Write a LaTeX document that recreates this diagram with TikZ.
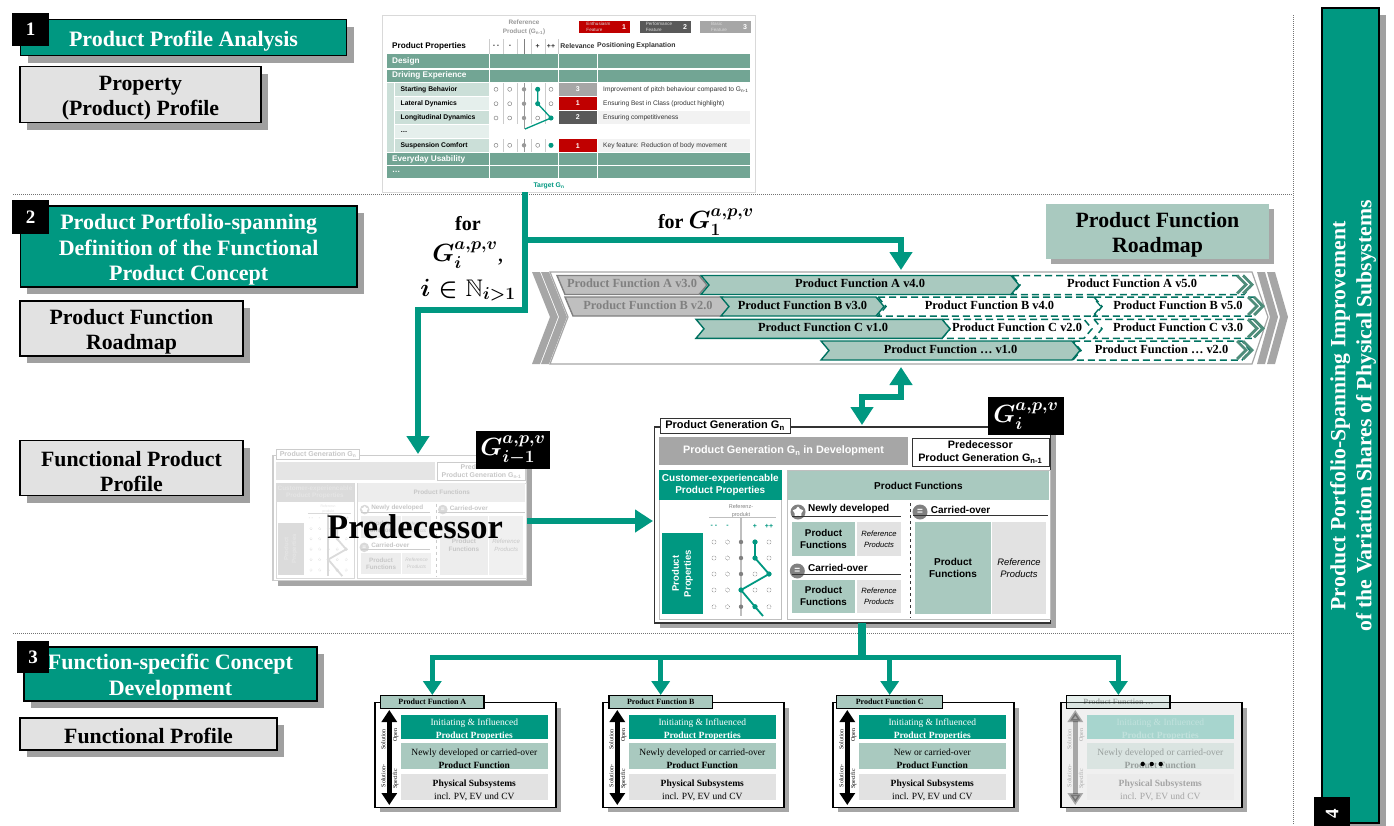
\documentclass[tikz,border=0pt]{standalone}
\usepackage{amsmath,amssymb}
\usepackage{fontspec}
\setmainfont{Liberation Serif}
\setsansfont{Liberation Sans}
\usetikzlibrary{arrows.meta,shadows,shapes.geometric}

\definecolor{pgreen}{HTML}{009881}
\definecolor{plight}{HTML}{A9C9BF}
\definecolor{ptable}{HTML}{72A594}
\definecolor{pgray}{HTML}{E2E2E2}
\definecolor{pshade}{HTML}{A0A0A0}
\definecolor{pred}{HTML}{C00000}
\definecolor{pdark}{HTML}{595959}
\definecolor{pchev}{HTML}{4E8D7A}
\newcommand{\fs}[2]{\fontsize{#1}{#2}\selectfont}
\newcommand{\lift}[1]{\rule{0pt}{#1}}

\tikzset{
  cell/.style={inner sep=0pt,align=center},
  hardshadow/.style={drop shadow={shadow xshift=7pt,shadow yshift=-7pt,opacity=1,fill=pshade}},
  softshadow/.style={drop shadow={shadow xshift=5pt,shadow yshift=-5pt,opacity=.35,fill=black}},
  stagebox/.style={cell,draw=black,line width=1.3pt,fill=pgreen,text=white,font=\bfseries\fs{22}{25.5},hardshadow},
  outbox/.style={cell,draw=black,line width=1.3pt,fill=pgray,text=black,font=\bfseries\fs{21.8}{25},hardshadow},
  numbox/.style={cell,fill=black,text=white,font=\bfseries\fs{19}{19}},
  flow/.style={draw=pgreen,line width=5.5pt,-{Triangle[width=22pt,length=18pt]}},
  flowboth/.style={draw=pgreen,line width=5.5pt,{Triangle[width=22pt,length=18pt]}-{Triangle[width=22pt,length=18pt]}},
  cardflow/.style={draw=pgreen,line width=5pt,-{Triangle[width=18pt,length=14pt]}},
  sepline/.style={densely dotted,draw=black!55,line width=1pt},
  tblhead/.style={cell,anchor=west,text=white,font=\sffamily\bfseries\fs{8.2}{9}},
  tblsub/.style={cell,anchor=west,font=\sffamily\bfseries\fs{6.8}{8}},
  tbltext/.style={cell,anchor=west,text=black!80,font=\sffamily\fs{6.6}{8}},
  tblcol/.style={cell,text=black!80,font=\sffamily\bfseries\fs{6.9}{8}},
  tblrel/.style={cell,text=white,minimum width=38pt,font=\sffamily\bfseries\fs{7}{8}},
  legbox/.style={cell,text=white!85!black,minimum height=12pt,minimum width=38pt,font=\sffamily\fs{4.6}{5.5},align=left},
  legnum/.style={cell,text=white,minimum height=12pt,minimum width=12pt,font=\sffamily\bfseries\fs{7}{8}},
  barsolid/.style={draw=pgreen!75!black,line width=1.4pt,fill=plight,text=black},
  bargray/.style={draw=black!50,line width=1.4pt,fill=black!25,text=black!50},
  bardash/.style={draw=pgreen!75!black,line width=1.5pt,dash pattern=on 7pt off 4pt,fill=white,text=black},
  bartext/.style={cell,font=\bfseries\fs{12.4}{14}},
  endchev/.style={draw=pchev,line width=2.8pt},
  outerchev/.style={fill=black!35},
  gencap/.style={cell,font=\sffamily\bfseries\fs{10}{12}},
  cardrow/.style={cell,font=\fs{9.5}{13}},
  sideword/.style={cell,rotate=90,font=\fs{6}{7}}
}

% one product generation card, in the pixel frame of the large one
\newcommand{\GenBody}[1]{
  \node[cell,draw=gcLine,line width=1.2pt,fill=white,minimum width=396pt,minimum height=196pt,softshadow] (#1frame) at (852.8,524.9) {};
  \node[gencap,draw=gcLine,line width=.8pt,fill=white,text=gcInk,minimum width=130pt,minimum height=15pt,font=\sffamily\bfseries\fs{11}{12}] (#1tab) at (725,425.5) {Product Generation G\textsubscript{n}};
  \node[gencap,fill=gcBand,text=gcHead,minimum width=249pt,minimum height=28pt,font=\sffamily\bfseries\fs{10.8}{12}] (#1band) at (783.5,451) {Product Generation G\textsubscript{n} in Development};
  \node[gencap,draw=gcLine,text=gcInk,minimum width=137pt,minimum height=28pt,font=\sffamily\bfseries\fs{10.8}{13}] (#1prev) at (980.3,452) {Predecessor\\Product Generation G\textsubscript{n-1}};
  \node[cell,draw=gcPane,minimum width=122.7pt,minimum height=149pt] (#1cust) at (720.3,544.5) {};
  \node[cell,draw=gcPane,minimum width=263.3pt,minimum height=149pt] (#1func) at (918.4,544.5) {};
  \node[gencap,fill=gcTeal,text=gcHead,minimum width=122.7pt,minimum height=30pt,font=\sffamily\bfseries\fs{10}{12}] (#1custhead) at (720.3,485) {Customer-experiencable\\Product Properties};
  \node[gencap,fill=gcTeal,text=gcHead,rotate=90,minimum width=81pt,minimum height=40.7pt,font=\sffamily\bfseries\fs{9.5}{12}] (#1propbox) at (682.3,573.5) {Product\\Properties};
  \node[cell,text=gcInk!50,font=\sffamily\fs{5.5}{8}] (#1refword) at (741,511) {Referenz-\\produkt};
  \draw[gcPane,line width=.8pt] (709,517.7) -- (776,517.7);
  \draw[gcPane,line width=2.5pt] (741,518) -- (741,616);
  \foreach \xc/\sym in {714/{- -},727.5/-,755/+,769/++}{
    \node[cell,text=gcTeal,font=\sffamily\bfseries\fs{7}{8}] at (\xc,526) {\sym};
  }
  \foreach \yc in {542,558,574,590,606.7}{
    \foreach \xc in {714,727.5,755,769}{ \draw[gcInk!70,densely dotted,line width=.5pt] (\xc,\yc) circle (2pt); }
    \fill[gcBadge] (741,\yc) circle (2.2pt);
  }
  \draw[gcTeal,line width=1.8pt] (755,542) -- (755,558) -- (769,574) -- (741,590) -- (755,606.7) -- (763,616);
  \foreach \xc/\yc in {755/542,755/558,769/574,741/590,755/606.7}{ \fill[gcTeal] (\xc,\yc) circle (2.6pt); }
  \node[gencap,fill=gcLight,text=gcInk,minimum width=261pt,minimum height=29pt] (#1funchead) at (918.4,485.5) {Product Functions};
  \node[cell,circle,fill=gcBadge,minimum size=15pt] (#1newmark) at (798,512) {};
  \node[cell,star,star points=5,fill=white,minimum size=11pt] (#1newstar) at (798,512) {};
  \node[gencap,anchor=west,text=gcInk] (#1newlab) at (808,509) {Newly developed};
  \draw[gcLine,line width=.7pt] (792,516) -- (900.7,516);
  \node[gencap,circle,fill=gcBadge,text=white,minimum size=15pt] (#1carmark) at (797.3,571) {=};
  \node[gencap,anchor=west,text=gcInk] (#1carlab) at (808,568) {Carried-over};
  \draw[gcLine,line width=.7pt] (792,574.3) -- (900.7,574.3);
  \node[gencap,circle,fill=gcBadge,text=white,minimum size=15pt] (#1keepmark) at (920,512) {=};
  \node[gencap,anchor=west,text=gcInk] (#1keeplab) at (930.7,509.7) {Carried-over};
  \draw[gcLine,line width=.7pt] (913,515.7) -- (1048,515.7);
  \draw[gcLine,dashed,line width=.9pt] (910,503) -- (910,618);
  \node[gencap,fill=gcLight,text=gcInk,minimum width=63pt,minimum height=34pt,font=\sffamily\bfseries\fs{9.8}{12}] (#1pfa) at (823.5,539) {Product\\Functions};
  \node[cell,fill=gcGray,text=gcInk,minimum width=44pt,minimum height=34pt,font=\sffamily\itshape\fs{7.6}{11}] (#1rfa) at (879,539) {Reference\\Products};
  \node[gencap,fill=gcLight,text=gcInk,minimum width=63pt,minimum height=32.7pt,font=\sffamily\bfseries\fs{9.8}{12}] (#1pfb) at (823.5,596.4) {Product\\Functions};
  \node[cell,fill=gcGray,text=gcInk,minimum width=44pt,minimum height=32.7pt,font=\sffamily\itshape\fs{7.6}{11}] (#1rfb) at (879,596.4) {Reference\\Products};
  \node[gencap,fill=gcLight,text=gcInk,minimum width=76pt,minimum height=92pt,font=\sffamily\bfseries\fs{10}{12}] (#1pfc) at (953,568) {Product\\Functions};
  \node[cell,fill=gcGray,text=gcInk,minimum width=54pt,minimum height=92pt,font=\sffamily\itshape\fs{9.4}{12}] (#1rfc) at (1019,568) {Reference\\Products};
}

\begin{document}
\begin{tikzpicture}[x=1pt,y=-1pt]
\useasboundingbox (0,0) rectangle (1394,825);

% separators
\draw[sepline] (13,194.5) -- (1292,194.5);
\draw[sepline] (13,633) -- (1292,633);
\draw[sepline] (1293,15) -- (1293,825);

% left column
\node[stagebox,minimum width=326pt,minimum height=36pt] (stagea) at (183.5,37.5) {\lift{22pt}Product Profile Analysis};
\node[numbox,minimum width=37pt,minimum height=33pt] (numa) at (30.5,29.5) {1};
\node[outbox,minimum width=241pt,minimum height=56pt] (profile) at (140.5,94.5) {\lift{22pt}Property\\(Product) Profile};
\node[stagebox,minimum width=336.5pt,minimum height=81pt] (stageb) at (188.7,246.5) {\lift{22pt}Product Portfolio-spanning\\Definition of the Functional\\Product Concept};
\node[numbox,minimum width=37pt,minimum height=34pt] (numb) at (30.5,217) {2};
\node[outbox,minimum width=223pt,minimum height=55pt] (roadmap) at (131.5,328.5) {\lift{22pt}Product Function\\Roadmap};
\node[outbox,minimum width=223pt,minimum height=55pt] (funcprof) at (131.5,468) {\lift{22pt}Functional Product\\Profile};
\node[stagebox,minimum width=293pt,minimum height=54pt] (stagec) at (170.5,674) {\lift{22pt}Function-specific Concept\\Development};
\node[numbox,minimum width=32pt,minimum height=32pt] (numc) at (33,657) {3};
\node[outbox,minimum width=257pt,minimum height=32pt] (funcsingle) at (148.5,734) {\lift{20pt}Functional Profile};

% right column
\node[stagebox,minimum width=57pt,minimum height=815pt] (staged) at (1350.5,415.5) {};
\node[cell,rotate=90,text=white,font=\bfseries\fs{21.7}{26}] (stagedtext) at (1353,416) {Product Portfolio-Spanning Improvement\\of the Variation Shares of Physical Subsystems};
\node[numbox,rotate=90,minimum width=33pt,minimum height=36pt] (numd) at (1332,813.5) {4};

% property table
\node[cell,draw=black!15,line width=1pt,fill=white,minimum width=373pt,minimum height=177pt] (proptbl) at (568.5,103.8) {};
\node[cell,text=black!40,font=\sffamily\bfseries\fs{6.4}{9}] (reflab) at (524,27.5) {Reference\\Product (G\textsubscript{n-1})};
\foreach \xa/\xb/\col/\num/\lab/\nm in {598.5/579/pred/1/{Enthusiasm\\Feature}/enth,659/640/pdark/2/{Performance\\Feature}/perf,719/700/black!35/3/{Basic\\Feature}/basic}{
  \node[legbox,fill=\col,minimum width=39pt] (leg\nm) at (\xa,27) {\lab};
  \node[legnum,fill=\col] (legn\nm) at (\xb+45,27) {\num};
}
\node[tblsub,font=\sffamily\bfseries\fs{8.2}{10}] (tblpp) at (392,46) {Product Properties};
\foreach \xc/\sym in {496/{- -},510/-,537.7/+,551/++}{ \node[tblcol] at (\xc,46) {\sym}; }
\node[tblcol] (tblrel) at (577.5,46) {Relevance};
\node[tblcol] (tblpos) at (616,46) {Positioning};
\node[tblcol] (tblexp) at (656,46) {Explanation};
\foreach \xc in {489.3,503.3,517.3,531.7,545,558.3}{ \draw[black!20,line width=.7pt] (\xc,39) -- (\xc,54); }
\draw[black!50,line width=.7pt] (524,39) -- (524,54);
\foreach \ya/\yb/\lab [count=\i] in {54.3/68.3/Design,70/81.7/Driving Experience,153.3/165/Everyday Usability,166/177.7/\ldots}{
  \foreach \xa/\xb in {386.7/489.3,490/558.3,559/596.7,597.7/750}{ \fill[ptable] (\xa,\ya) rectangle (\xb,\yb); }
  \node[tblhead] (tblrow\i) at (392,{(\ya+\yb)/2}) {\lab};
}
\fill[plight!60] (387,82.7) rectangle (393.7,152.3);
\foreach \ya/\yb/\lab/\col [count=\i] in {82.7/96/Starting Behavior/plight!60,96.7/110/Lateral Dynamics/plight!30,110.7/124/Longitudinal Dynamics/plight!60,125/138/\ldots/plight!30,139/152.3/Suspension Comfort/plight!60}{
  \fill[\col] (395,\ya) rectangle (489,\yb);
  \node[tblsub] (tblsub\i) at (400.5,{(\ya+\yb)/2}) {\lab};
}
\fill[black!5] (597.7,110.7) rectangle (750,124);
\fill[black!5] (597.7,139) rectangle (750,152.3);
\foreach \xc in {503.3,517.3,531.7,545}{
  \draw[black!20,line width=.5pt] (\xc,83) -- (\xc,124);
  \draw[black!20,line width=.5pt] (\xc,139) -- (\xc,152);
}
\draw[black!40,line width=.7pt] (524,83) -- (524,129);
\draw[black!40,line width=.7pt] (524,139) -- (524,152);
\foreach \yc in {89.3,103.7,118,145.3}{
  \foreach \xc in {496,509.7,537.7,551}{ \draw[black!55,fill=white,line width=.4pt] (\xc,\yc) circle (2pt); }
  \fill[black!40] (524,\yc) circle (2.2pt);
}
\draw[pgreen,line width=1.3pt] (537.7,89.3) -- (537.7,103.7) -- (551,118) -- (525,129);
\foreach \xc/\yc in {537.7/89.3,537.7/103.7,551/118,551/145.3}{ \fill[pgreen] (\xc,\yc) circle (2.5pt); }
\foreach \yc/\col/\num [count=\i] in {89.3/black!35/3,103.4/pred/1,117.4/pdark/2,145.6/pred/1}{
  \node[tblrel,fill=\col,minimum height=13.5pt] (tblnum\i) at (577.8,\yc) {\num};
}
\node[tbltext] (tblexa) at (603,89.3) {Improvement of pitch behaviour compared to G\textsubscript{n-1}};
\node[tbltext] (tblexb) at (603,103.4) {Ensuring Best in Class (product highlight)};
\node[tbltext] (tblexc) at (603,117.4) {Ensuring competitiveness};
\node[tbltext] (tblexd) at (603,145.6) {Key feature: Reduction of body movement};
\node[cell,text=pgreen,font=\sffamily\bfseries\fs{6.8}{8}] (target) at (549,185.5) {Target G\textsubscript{n}};

% roadmap band
\node[cell,fill=plight,minimum width=223pt,minimum height=55pt,font=\bfseries\fs{21.8}{25},softshadow] (maplabel) at (1157.5,231.5) {\lift{22pt}Product Function\\Roadmap};
\foreach \xa in {532,541}{ \fill[outerchev] (\xa,272) -- (\xa+8,272) -- (\xa+26,317) -- (\xa+8,364) -- (\xa,364) -- (\xa+18,317) -- cycle; }
\foreach \xa in {1257,1267}{ \fill[outerchev] (\xa,272) -- (\xa+8,272) -- (\xa+21,317) -- (\xa+8,364) -- (\xa,364) -- (\xa+13,317) -- cycle; }
\draw[draw=black!35,line width=1.2pt,fill=white] (550,272) -- (1252,272) -- (1268,317) -- (1252,364) -- (550,364) -- (568,317) -- cycle;
\foreach \xa/\xb/\ya/\lab/\nm [evaluate=\ya as \ym using \ya+9.5,evaluate=\ya as \yb using \ya+19] in {
  557/707/275.5/Product Function A v3.0/aiii,
  565/731/297/Product Function B v2.0/bii}{
  \draw[bargray] (\xa,\ya) -- (\xb-8,\ya) -- (\xb,\ym) -- (\xb-8,\yb) -- (\xa+8,\yb) -- cycle;
  \node[bargray,draw=none,fill=none,bartext] (bar\nm) at ({(\xa+\xb)/2},\ym-1.5) {\lab};
}
\foreach \xa/\xb/\ya/\barstyle/\lab/\nm [evaluate=\ya as \ym using \ya+9.5,evaluate=\ya as \yb using \ya+19] in {
  1012/1252/275.5/bardash/Product Function A v5.0/av,
  701/1019/275.5/barsolid/Product Function A v4.0/aiv,
  878/1101/297/bardash/Product Function B v4.0/biv,
  1094/1262/297/bardash/Product Function B v5.0/bv,
  721/884/297/barsolid/Product Function B v3.0/biii,
  942/1092/319.3/bardash/Product Function C v2.0/cii,
  1094/1262/319.3/bardash/Product Function C v3.0/ciii,
  696/950/319.3/barsolid/Product Function C v1.0/ci,
  1073/1250/341/bardash/Product Function \ldots{} v2.0/dii,
  821/1080/341/barsolid/Product Function \ldots{} v1.0/di}{
  \draw[\barstyle] (\xa,\ya) -- (\xb-8,\ya) -- (\xb,\ym) -- (\xb-8,\yb) -- (\xa,\yb) -- (\xa+8,\ym) -- cycle;
  \node[\barstyle,draw=none,fill=none,bartext] (bar\nm) at ({(\xa+\xb)/2},\ym-1.5) {\lab};
}
\foreach \xe/\ya [evaluate=\ya as \ym using \ya+9,evaluate=\ya as \yb using \ya+18] in {1252/275.5,1263/297,1263/319.3,1252/341}{
  \draw[endchev] (\xe-15,\ya) -- (\xe-6,\ym) -- (\xe-15,\yb);
  \draw[endchev] (\xe-9,\ya) -- (\xe,\ym) -- (\xe-9,\yb);
}

% predecessor card, faded
\begin{scope}[shift={(-146,181.9)},scale=.64,transform shape]
\colorlet{gcLine}{black!20}\colorlet{gcInk}{black!22}\colorlet{gcTeal}{black!14}\colorlet{gcLight}{black!7}
\colorlet{gcGray}{black!6}\colorlet{gcBand}{black!10}\colorlet{gcPane}{black!15}\colorlet{gcBadge}{black!15}\colorlet{gcHead}{white!90!black}
\GenBody{pred}
\end{scope}
\node[cell,font=\bfseries\fs{34.5}{40}] (predword) at (415,527) {Predecessor};
\node[cell,fill=black,text=white,minimum width=74pt,minimum height=38pt,font=\fs{24}{28}] (badgeprev) at (513,450) {$\boldsymbol{G_{i-1}^{a,p,v}}$};

% current generation card
\begin{scope}
\colorlet{gcLine}{black!80}\colorlet{gcInk}{black}\colorlet{gcTeal}{pgreen}\colorlet{gcLight}{plight}
\colorlet{gcGray}{pgray}\colorlet{gcBand}{black!35}\colorlet{gcPane}{black!25}\colorlet{gcBadge}{black!50}\colorlet{gcHead}{white}
\GenBody{gen}
\end{scope}
\node[cell,fill=black,text=white,minimum width=76pt,minimum height=38pt,font=\fs{24}{28}] (badgegen) at (1026,416) {$\boldsymbol{G_i^{a,p,v}}$};

% function cards
\foreach \dx/\nm/\tabx/\tabw/\lab/\mid/\op/\bg in {
  0/A/432.3/103.3/A/Newly developed or carried-over/1/white,
  228/B/432.7/103.3/B/Newly developed or carried-over/1/white,
  458/C/431.7/106/C/New or carried-over/1/white,
  686/D/432.4/103.3/\ldots/Newly developed or carried-over/.3/black!6}{
\begin{scope}[shift={(\dx,0)}]
  \node[cell,draw=black,line width=1.4pt,fill=\bg,minimum width=181pt,minimum height=104.6pt,softshadow] (card\nm) at (465.5,755) {};
  \fill[pgreen,opacity=\op] (401,715) rectangle (547.7,739);
  \fill[plight,opacity=\op] (401,743) rectangle (547.7,769);
  \fill[pgray,opacity=\op] (401,774) rectangle (547.7,800);
  \node[cardrow,text=white,opacity=\op] (cardtop\nm) at (474.3,727) {\lift{12.5pt}Initiating \& Influenced\\\textbf{Product Properties}};
  \node[cardrow,opacity=\op] (cardmid\nm) at (474.3,756) {\lift{12.5pt}\mid\\\textbf{Product Function}};
  \node[cardrow,opacity=\op] (cardlow\nm) at (474.3,787) {\lift{12.5pt}\textbf{Physical Subsystems}\\incl. PV, EV und CV};
  \coordinate (cardup\nm) at (389.3,710);
  \coordinate (carddn\nm) at (389.3,805);
  \draw[line width=4.5pt,opacity=\op,{Triangle[width=15pt,length=12pt]}-{Triangle[width=15pt,length=12pt]}] (cardup\nm) -- (carddn\nm);
  \node[sideword,opacity=\op] (solu\nm) at (383.3,739.3) {Solution};
  \node[sideword,opacity=\op] (sols\nm) at (383.3,776) {Solution-};
  \node[sideword,opacity=\op] (open\nm) at (395.7,735) {Open};
  \node[sideword,opacity=\op] (spec\nm) at (395.7,779) {Specific};
  \node[cell,draw=black,line width=1.4pt,fill=plight,fill opacity=\op,minimum width=\tabw pt,minimum height=12.6pt,font=\bfseries\fs{8}{10}] (tab\nm) at (\tabx,702) {Product Function \lab};
\end{scope}
}
\foreach \xd in {1142.7,1151.7,1160.7}{ \fill (\xd,764) circle (2.2pt); }

% connectors
\coordinate (tabletail) at (525,192);
\coordinate (split) at (525,240);
\coordinate (bend) at (525,310);
\coordinate (bandin) at (901,270);
\coordinate (predin) at (418,454);
\coordinate (bandout) at (901,367);
\coordinate (elbow) at (901,397);
\coordinate (genin) at (862,425);
\coordinate (predout) at (527,521);
\coordinate (gennear) at (653,521);
\coordinate (trunk) at (862,623);
\coordinate (junction) at (862,657);
\draw[flow] (tabletail) -- (split) -| (bandin);
\draw[flow] (split) -- (bend) -| (predin);
\draw[flowboth] (bandout) -- (elbow) -| (genin);
\draw[flow] (predout) -- (gennear);
\foreach \nm in {A,B,C,D}{ \draw[cardflow] (trunk) -- (junction) -| (tab\nm.north); }
\draw[pgreen,line width=8pt] (trunk) -- (junction);

% iteration labels
\node[cell,font=\bfseries\fs{20}{25}] (foriter) at (468,224) {for};
\node[cell,font=\fs{24}{28}] (foriterg) at (468,255) {$\boldsymbol{G_i^{a,p,v}}$,};
\node[cell,font=\fs{24}{28}] (foriters) at (468,290) {$\boldsymbol{i\in\mathbb{N}_{i>1}}$};
\node[cell,font=\fs{24}{28}] (forfirst) at (706,222) {\fs{20}{25}\textbf{for }\fs{24}{28}$\boldsymbol{G_1^{a,p,v}}$};
\end{tikzpicture}
\end{document}
